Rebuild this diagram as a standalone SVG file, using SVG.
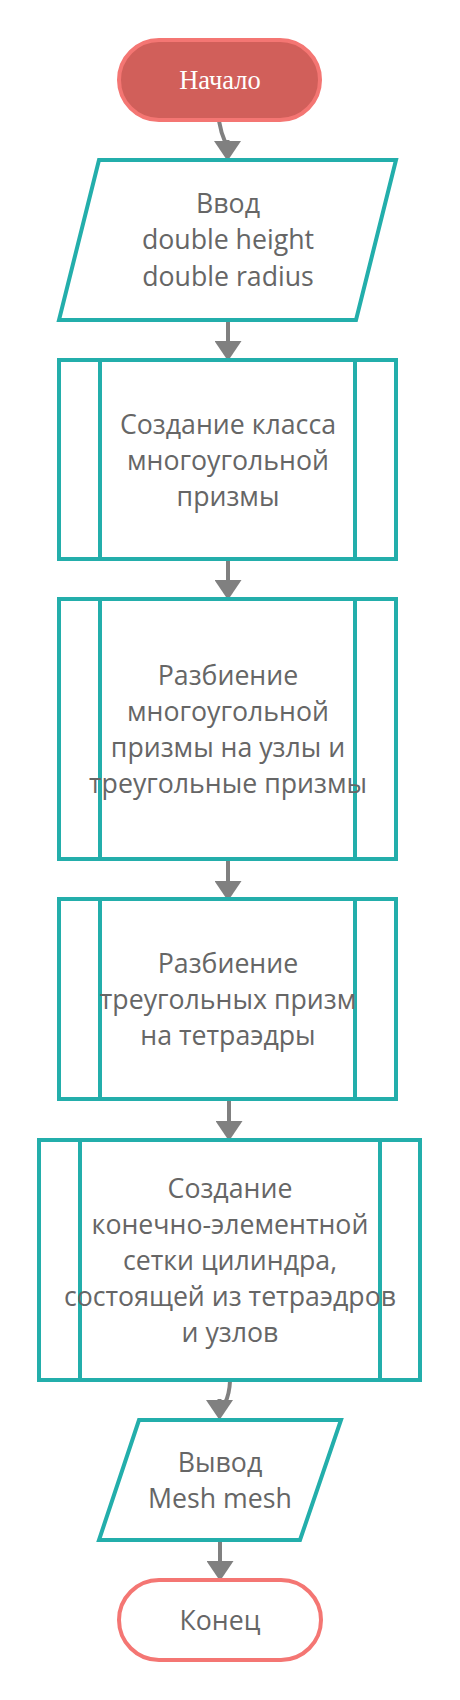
<svg xmlns="http://www.w3.org/2000/svg" width="460" height="1700" viewBox="0 0 460 1700">
<style>
.term{stroke:#f47673;stroke-width:4}
.proc{fill:#fff;stroke:#23aeab;stroke-width:4}
.sub{fill:none;stroke:#23aeab;stroke-width:4}
.t{font-family:"Open Sans","DejaVu Sans",sans-serif;font-size:26.7px;fill:#666;text-anchor:middle}
.ts{font-family:"Liberation Serif","Times New Roman",serif;font-size:26.5px;fill:#fff;text-anchor:middle}
.c{fill:none;stroke:#808080;stroke-width:4}
</style>
<defs>
<marker id="ah" viewBox="0 0 20 27" refX="0" refY="13.5" markerWidth="20" markerHeight="27" markerUnits="userSpaceOnUse" orient="90">
<path d="M0,0 L20,13.5 L0,27 z" fill="#808080"/>
</marker>
</defs>
<rect width="460" height="1700" fill="#fff"/>
<g id="connectors">
<path class="c" d="M219,121 Q221,133 225.5,143 M227.5,140 L227.5,141" marker-end="url(#ah)"/>
<path class="c" d="M228,320 L228,341" marker-end="url(#ah)"/>
<path class="c" d="M228,559 L228,580" marker-end="url(#ah)"/>
<path class="c" d="M228,859 L228,881" marker-end="url(#ah)"/>
<path class="c" d="M229,1099 L229,1121" marker-end="url(#ah)"/>
<path class="c" d="M230,1381 Q229.5,1394 225,1403 M219.5,1399 L219.5,1400" marker-end="url(#ah)"/>
<path class="c" d="M220,1540 L220,1561" marker-end="url(#ah)"/>
</g>
<g id="start">
<rect class="term" x="119" y="40" width="201" height="80" rx="40" fill="#d15f5a"/>
<text class="ts" x="220" y="89">Начало</text>
</g>
<g id="input">
<polygon class="proc" points="99,160 396,160 356,320 59,320"/>
<text class="t" x="228" y="213">Ввод</text>
<text class="t" x="228" y="249">double height</text>
<text class="t" x="228" y="286">double radius</text>
</g>
<g id="create-prism">
<rect class="proc" x="59" y="360" width="337" height="199"/>
<path class="sub" d="M100,360 V559 M355,360 V559"/>
<text class="t" x="228" y="434">Создание класса</text>
<text class="t" x="228" y="470">многоугольной</text>
<text class="t" x="228" y="506">призмы</text>
</g>
<g id="split-prism">
<rect class="proc" x="59" y="599" width="337" height="260"/>
<path class="sub" d="M100,599 V859 M355,599 V859"/>
<text class="t" x="228" y="685">Разбиение</text>
<text class="t" x="228" y="721">многоугольной</text>
<text class="t" x="228" y="757">призмы на узлы и</text>
<text class="t" x="228" y="793">треугольные призмы</text>
</g>
<g id="split-tri">
<rect class="proc" x="59" y="899" width="337" height="200"/>
<path class="sub" d="M100,899 V1099 M355,899 V1099"/>
<text class="t" x="228" y="973">Разбиение</text>
<text class="t" x="228" y="1009">треугольных призм</text>
<text class="t" x="228" y="1045">на тетраэдры</text>
</g>
<g id="create-mesh">
<rect class="proc" x="39" y="1140" width="381" height="240"/>
<path class="sub" d="M80,1140 V1380 M380,1140 V1380"/>
<text class="t" x="230" y="1198">Создание</text>
<text class="t" x="230" y="1234">конечно-элементной</text>
<text class="t" x="230" y="1270">сетки цилиндра,</text>
<text class="t" x="230" y="1306">состоящей из тетраэдров</text>
<text class="t" x="230" y="1342">и узлов</text>
</g>
<g id="output">
<polygon class="proc" points="139,1420 341,1420 300,1540 99,1540"/>
<text class="t" x="220" y="1472">Вывод</text>
<text class="t" x="220" y="1508">Mesh mesh</text>
</g>
<g id="end">
<rect class="term" x="119" y="1580" width="202" height="80" rx="40" fill="#fff"/>
<text class="t" x="220" y="1630">Конец</text>
</g>
</svg>
